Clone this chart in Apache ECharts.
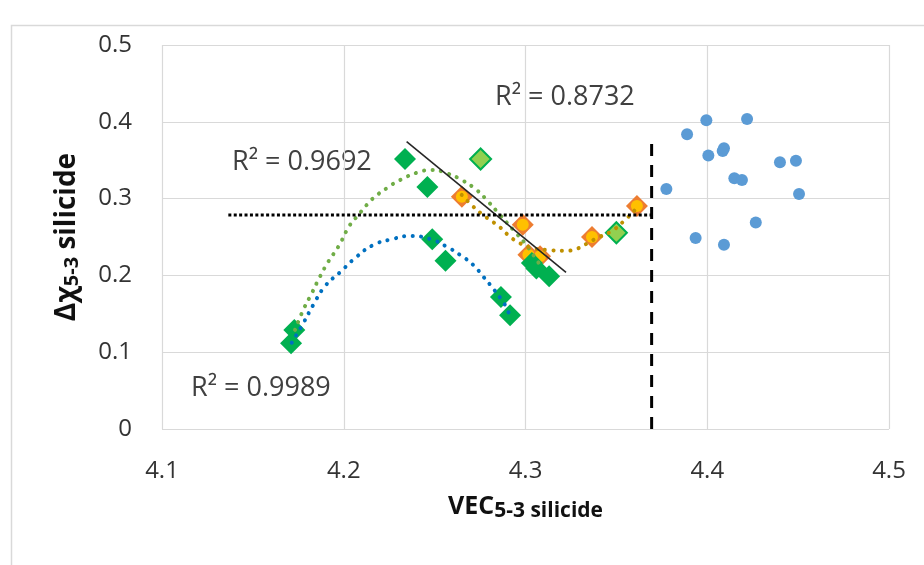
<!DOCTYPE html>
<html>
<head>
<meta charset="utf-8">
<script src="https://cdn.jsdelivr.net/npm/echarts@6/dist/echarts.min.js"></script>
<style>
  html, body { margin: 0; padding: 0; background: #fff; }
  #chart { width: 924px; height: 565px; }
</style>
</head>
<body>
<div id="chart"></div>
<script>
// axis ticks
var xTicks = [4.1, 4.2, 4.3, 4.4, 4.5];
var yTicks = [0, 0.1, 0.2, 0.3, 0.4, 0.5];

// markers
var greenPts = [[4.1710, 0.1115], [4.1728, 0.129], [4.2337, 0.3516], [4.2460, 0.315],
  [4.2487, 0.247], [4.2560, 0.219], [4.2865, 0.172], [4.2915, 0.148],
  [4.3035, 0.216], [4.3060, 0.209], [4.3130, 0.199]];
var lightGreenPts = [[4.2753, 0.3516], [4.3500, 0.2555]];
var orangePts = [[4.2650, 0.3025], [4.2985, 0.2660], [4.3016, 0.2270], [4.3080, 0.2250],
  [4.3366, 0.2500], [4.3613, 0.2905]];
var bluePts = [[4.3775, 0.3125], [4.3889, 0.3837], [4.3995, 0.4020], [4.4006, 0.3560],
  [4.4085, 0.3620], [4.4092, 0.3655], [4.4219, 0.4036], [4.4149, 0.3264],
  [4.4191, 0.3242], [4.4400, 0.3472], [4.4488, 0.3494], [4.4505, 0.3060],
  [4.4267, 0.2690], [4.3936, 0.2487], [4.4092, 0.2400]];

// trend lines
var greenTrend = [[4.1732, 0.129], [4.1777, 0.155], [4.1824, 0.1767], [4.1869, 0.1983],
  [4.1915, 0.2178], [4.1970, 0.2374], [4.2034, 0.2656], [4.2080, 0.2786],
  [4.2126, 0.2917], [4.2172, 0.3025], [4.2236, 0.3134], [4.2310, 0.3242],
  [4.2420, 0.3350], [4.2484, 0.3372], [4.2566, 0.3330], [4.2649, 0.3242],
  [4.2731, 0.3112], [4.2795, 0.2960], [4.2860, 0.2786], [4.2933, 0.2591],
  [4.2997, 0.2418], [4.3043, 0.2266], [4.3080, 0.2135]];
var blueTrend = [[4.1714, 0.1124], [4.1777, 0.1376], [4.1832, 0.1615], [4.1897, 0.1860],
  [4.1979, 0.2040], [4.2071, 0.2243], [4.2163, 0.2396], [4.2264, 0.2470],
  [4.2364, 0.2513], [4.2475, 0.2474], [4.2566, 0.2374], [4.2640, 0.2266],
  [4.2713, 0.2135], [4.2768, 0.1983], [4.2814, 0.1853], [4.2869, 0.1680],
  [4.2897, 0.1572], [4.2915, 0.1460]];
var goldTrend = [[4.2649, 0.3047], [4.2713, 0.2895], [4.2759, 0.2800], [4.2805, 0.2721],
  [4.2860, 0.2626], [4.2915, 0.2504], [4.2970, 0.2418], [4.3043, 0.2353],
  [4.3117, 0.2331], [4.3227, 0.2322], [4.3291, 0.2353], [4.3355, 0.2439],
  [4.3410, 0.2504], [4.3483, 0.2591], [4.3547, 0.2721], [4.3602, 0.2852],
  [4.3612, 0.2905]];
var linearTrend = [[4.2346, 0.3741], [4.3223, 0.2038]];
var hLine = [[4.1365, 0.2786], [4.3694, 0.2786]];
var vLine = [[4.3694, 0], [4.3694, 0.381]];

var r2Labels = ['R\u00b2 = 0.8732', 'R\u00b2 = 0.9692', 'R\u00b2 = 0.9989'];

var chart = echarts.init(document.getElementById('chart'));

function fmt(v) {
  return v === 0 ? '0' : v.toFixed(1);
}

function trend(data, color) {
  return {
    type: 'line',
    data: data,
    smooth: true,
    showSymbol: false,
    symbol: 'none',
    z: 6,
    silent: true,
    lineStyle: { color: color, width: 4, type: [0.1, 8.4], cap: 'round' }
  };
}

var textFont = '"Open Sans", sans-serif';

chart.setOption({
  animation: false,
  grid: { left: 162, right: 35, top: 45, bottom: 136, outerBoundsMode: 'none' },
  xAxis: {
    type: 'value',
    min: xTicks[0],
    max: xTicks[xTicks.length - 1],
    interval: 0.1,
    axisLine: { show: false },
    axisTick: { show: false },
    splitLine: { lineStyle: { color: '#d9d9d9', width: 1.2 } },
    axisLabel: { formatter: fmt, color: '#333', fontSize: 24, fontFamily: textFont, margin: 30 },
    name: '{a|VEC}{b|5-3 silicide}',
    nameLocation: 'middle',
    nameGap: 63,
    nameTextStyle: {
      rich: {
        a: { fontSize: 25, fontWeight: 'bold', fontFamily: textFont, color: '#111', lineHeight: 30 },
        b: { fontSize: 21, fontWeight: 'bold', fontFamily: textFont, color: '#111', lineHeight: 8, verticalAlign: 'bottom' }
      }
    }
  },
  yAxis: {
    type: 'value',
    min: yTicks[0],
    max: yTicks[yTicks.length - 1],
    interval: 0.1,
    axisLine: { show: false },
    axisTick: { show: false },
    splitLine: { lineStyle: { color: '#d9d9d9', width: 1.2 } },
    axisLabel: { formatter: fmt, color: '#333', fontSize: 24, fontFamily: textFont, margin: 30 },
    name: '{a|\u0394\u03c7}{b|5-3}{a| silicide}',
    nameLocation: 'middle',
    nameRotate: 90,
    nameGap: 80,
    nameTextStyle: {
      rich: {
        a: { fontSize: 28, fontWeight: 'bold', fontFamily: textFont, color: '#111', lineHeight: 30 },
        b: { fontSize: 20, fontWeight: 'bold', fontFamily: textFont, color: '#111', lineHeight: 8, verticalAlign: 'bottom' }
      }
    }
  },
  graphic: [
    { type: 'rect', left: 9, top: 23, shape: { width: 1000, height: 1000 },
      style: { fill: 'none', stroke: '#d9d9d9', lineWidth: 1.5 }, z: -1, silent: true },
    { type: 'text', left: 495, top: 84, style: { text: r2Labels[0], font: '27px ' + textFont, fill: '#404040' } },
    { type: 'text', left: 232, top: 149, style: { text: r2Labels[1], font: '27px ' + textFont, fill: '#404040' } },
    { type: 'text', left: 191, top: 375, style: { text: r2Labels[2], font: '27px ' + textFont, fill: '#404040' } }
  ],
  series: [
    { type: 'scatter', data: orangePts, symbol: 'diamond', symbolSize: 22, z: 2,
      itemStyle: { color: '#ed7d31', opacity: 1 } },
    { type: 'scatter', data: orangePts, symbol: 'circle', symbolSize: 12, z: 3,
      itemStyle: { color: '#ffc000', opacity: 1 } },
    { type: 'scatter', data: greenPts, symbol: 'diamond', symbolSize: 22, z: 4,
      itemStyle: { color: '#00b050', opacity: 1 } },
    { type: 'scatter', data: lightGreenPts, symbol: 'diamond', symbolSize: 21, z: 4,
      itemStyle: { color: '#92d050', borderColor: '#00b050', borderWidth: 2, opacity: 1 } },
    { type: 'scatter', data: bluePts, symbol: 'circle', symbolSize: 12, z: 4,
      itemStyle: { color: '#5b9bd5', opacity: 1 } },
    trend(greenTrend, '#70ad47'),
    trend(blueTrend, '#0070c0'),
    trend(goldTrend, '#bf9000'),
    { type: 'line', data: linearTrend, showSymbol: false, symbol: 'none', z: 7, silent: true,
      lineStyle: { color: '#262626', width: 1.6 } },
    { type: 'line', data: hLine, showSymbol: false, symbol: 'none', z: 7, silent: true,
      lineStyle: { color: '#000', width: 3, type: [3, 2.4] } },
    { type: 'line', data: vLine, showSymbol: false, symbol: 'none', z: 7, silent: true,
      lineStyle: { color: '#000', width: 3, type: [12, 9] } }
  ]
});
</script>
</body>
</html>
